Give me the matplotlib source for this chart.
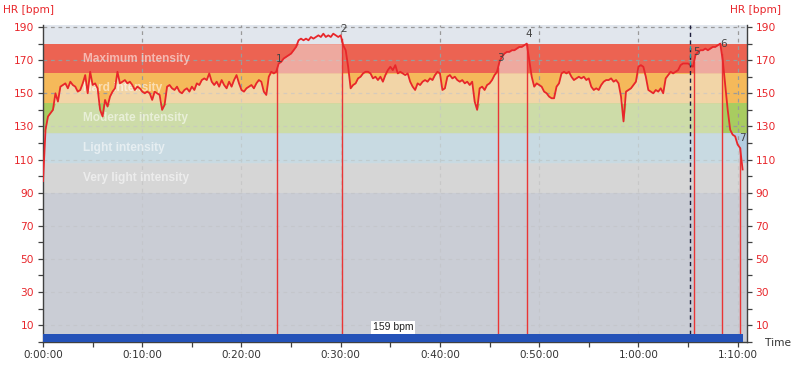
import numpy as np
import matplotlib.pyplot as plt
from matplotlib.patches import Rectangle
from matplotlib.ticker import FixedLocator, MultipleLocator, FuncFormatter

# heart rate, one reading every 15 s (bpm)
hr_bpm = [
    97, 128, 136, 138,   # 0 min
    140, 150, 145, 154,  # 1
    155, 156, 153, 157,  # 2
    155, 154, 151, 152,  # 3
    156, 161, 150, 163,  # 4
    155, 156, 153, 140,  # 5
    136, 146, 142, 148,  # 6
    151, 153, 163, 156,  # 7
    157, 158, 156, 157,  # 8
    155, 152, 154, 153,  # 9
    151, 150, 151, 150,  # 10
    146, 151, 150, 149,  # 11
    140, 143, 154, 155,  # 12
    153, 152, 154, 151,  # 13
    150, 152, 153, 151,  # 14
    154, 152, 156, 155,  # 15
    158, 159, 158, 162,  # 16
    157, 155, 157, 154,  # 17
    158, 155, 153, 157,  # 18
    154, 158, 161, 156,  # 19
    152, 151, 153, 154,  # 20
    155, 153, 156, 158,  # 21
    157, 151, 149, 160,  # 22
    163, 162, 163, 168,  # 23
    169, 171, 172, 173,  # 24
    174, 176, 178, 182,  # 25
    183, 182, 183, 182,  # 26
    184, 183, 184, 185,  # 27
    184, 186, 184, 185,  # 28
    184, 186, 185, 184,  # 29
    185, 179, 176, 166,  # 30
    153, 155, 156, 159,  # 31
    160, 162, 163, 163,  # 32
    162, 159, 160, 158,  # 33
    160, 157, 161, 164,  # 34
    166, 164, 167, 162,  # 35
    163, 162, 161, 162,  # 36
    157, 154, 152, 156,  # 37
    155, 157, 158, 157,  # 38
    159, 158, 161, 163,  # 39
    162, 152, 153, 160,  # 40
    161, 159, 160, 158,  # 41
    157, 158, 156, 157,  # 42
    155, 157, 145, 140,  # 43
    153, 154, 152, 155,  # 44
    156, 158, 161, 163,  # 45
    169, 172, 174, 175,  # 46
    175, 176, 176, 177,  # 47
    178, 178, 179, 180,  # 48
    170, 160, 154, 156,  # 49
    155, 154, 151, 150,  # 50
    148, 147, 147, 154,  # 51
    156, 162, 163, 162,  # 52
    163, 160, 158, 159,  # 53
    160, 159, 160, 158,  # 54
    159, 154, 152, 153,  # 55
    152, 155, 157, 158,  # 56
    158, 159, 157, 158,  # 57
    156, 148, 133, 151,  # 58
    152, 153, 155, 157,  # 59
    166, 167, 166, 160,  # 60
    152, 151, 150, 152,  # 61
    151, 153, 150, 159,  # 62
    161, 163, 162, 163,  # 63
    164, 167, 168, 168,  # 64
    168, 167, 166, 173,  # 65
    175, 176, 176, 177,  # 66
    176, 177, 178, 178,  # 67
    179, 180, 170, 155,  # 68
    140, 128, 125, 124,  # 69
    119, 117, 104,       # 70
]
sample_step_min = 0.25

zone_names = ["Very light intensity", "Light intensity", "Moderate intensity",
              "Hard intensity", "Maximum intensity"]
zone_low = [90, 108, 126, 144, 162]
zone_high = [108, 126, 144, 162, 180]

marker_min = [23.6, 30.1, 45.85, 48.75, 65.6, 68.4, 70.25]
cursor_min = 65.2
avg_hr = 159

t_min = np.arange(len(hr_bpm)) * sample_step_min
hr = np.array(hr_bpm, dtype=float)

# zone colours: full colour above the curve, washed out below it
zone_base = ["#c8c8c8", "#b4cde0", "#a8cc60", "#f5b95a", "#ec6352"]
zone_wash = ["#dcdcdc", "#d1e0e4", "#dde3c8", "#f1e1c9", "#efc8c1"]
wash_alpha = 0.7
red = "#e8262b"

fig = plt.figure(figsize=(7.97, 3.67), dpi=100)
ax = fig.add_axes([0.054, 0.069, 0.8827, 0.8627])
x_max = 70.9
y_max = 191.2
ax.set_xlim(0, x_max)
ax.set_ylim(0, y_max)

ax.axhspan(180, y_max, color="#e1e6ed", lw=0, zorder=0)
ax.axhspan(0, 90, color="#afb2be", lw=0, zorder=0)
for lo, hi, c in zip(zone_low, zone_high, zone_base):
    ax.axhspan(lo, hi, color=c, lw=0, zorder=0)

# dashed grid
for y in range(10, 191, 20):
    ax.axhline(y, color="#9a9a9a", lw=0.9, ls=(0, (3, 3)), zorder=1)
for x in range(10, 71, 10):
    ax.axvline(x, color="#9a9a9a", lw=0.9, ls=(0, (3, 3)), zorder=1)

# washed-out parts
ax.axhspan(0, 90, color="#d6d9e0", alpha=wash_alpha, lw=0, zorder=2)
ax.axhspan(90, 108, color=zone_wash[0], alpha=wash_alpha, lw=0, zorder=2)


def clip_box(t0, t1):
    return Rectangle((t0, 0), t1 - t0, y_max, transform=ax.transData)


ax.fill_between(t_min, zone_low[1], np.clip(hr, zone_low[1], zone_high[1]),
                color=zone_wash[1], alpha=wash_alpha, lw=0, zorder=2)
for k in (2, 3):
    f = ax.fill_between(t_min, zone_low[k], np.clip(hr, zone_low[k], zone_high[k]),
                        color=zone_wash[k], alpha=wash_alpha, lw=0, zorder=2)
    f.set_clip_path(clip_box(0, marker_min[5]))
for a, b in [(0, 1), (2, 3), (4, 5)]:
    f = ax.fill_between(t_min, zone_low[4], np.clip(hr, zone_low[4], zone_high[4]),
                        color=zone_wash[4], alpha=wash_alpha, lw=0, zorder=2)
    f.set_clip_path(clip_box(marker_min[a], marker_min[b]))

for name, lo, hi in zip(zone_names, zone_low, zone_high):
    ax.text(4.0, (lo + hi) / 2, name, color="white", alpha=0.55, fontsize=8.6,
            fontweight="bold", family="Liberation Sans", ha="left", va="center", zorder=3)

# lap markers
for i, m in enumerate(marker_min):
    top = np.interp(m, t_min, hr)
    ax.plot([m, m], [0, top], color="#ea3535", lw=1.0, zorder=3.5)
    ax.annotate(str(i + 1), (m, top), xytext=(1.5, 3.5), textcoords="offset points",
                ha="center", va="bottom", fontsize=7.5, color="#444444", zorder=6)

ax.plot(t_min, hr, color=red, lw=1.3, zorder=4)

# cursor line
cur_hr = np.interp(cursor_min, t_min, hr)
ax.plot([cursor_min, cursor_min], [0, y_max], color="#1c1c3a", lw=1.0,
        ls=(0, (3, 2.5)), zorder=4.5)
ax.plot([cursor_min, cursor_min], [cur_hr, 180], color="#1aa5ad", lw=1.0,
        ls=(0, (3, 2.5)), zorder=4.6)

# average bar
ax.barh(0, t_min[-1], height=4.8, left=0, align="edge", color="#2452b8", zorder=5)
ax.text(t_min[-1] / 2, 5.6, f"{avg_hr} bpm", ha="center", va="bottom", fontsize=7.5,
        family="Liberation Sans", color="#222222",
        bbox=dict(fc="white", ec="none", pad=1.2), zorder=6)

ax.yaxis.set_major_locator(FixedLocator(list(range(10, 191, 20))))
ax.yaxis.set_minor_locator(FixedLocator(list(range(0, 191, 20))))
ax.xaxis.set_major_locator(MultipleLocator(10))
ax.xaxis.set_minor_locator(MultipleLocator(5))
ax.xaxis.set_major_formatter(FuncFormatter(lambda v, p: f"{int(v) // 60}:{int(v) % 60:02d}:00"))

ax.tick_params(axis="y", which="both", left=True, right=True, labelleft=True,
               labelright=True, direction="out", length=3.5, width=0.9,
               color="#404040", labelcolor=red, labelsize=7.7, pad=3)
ax.tick_params(axis="x", which="both", direction="out", length=3.5, width=0.9,
               color="#404040", labelcolor="#333333", labelsize=7.5, pad=2.5)

ax.spines["top"].set_visible(False)
for s in ["left", "right", "bottom"]:
    ax.spines[s].set_color("#404040")
    ax.spines[s].set_linewidth(1.0)

fig.text(0.004, 0.974, "HR [bpm]", color=red, fontsize=7.7, ha="left", va="center")
fig.text(0.98, 0.974, "HR [bpm]", color=red, fontsize=7.7, ha="right", va="center")
fig.text(0.9925, 0.065, "Time", color="#333333", fontsize=7.7, ha="right", va="center")

fig.savefig("out.png", dpi=100)
